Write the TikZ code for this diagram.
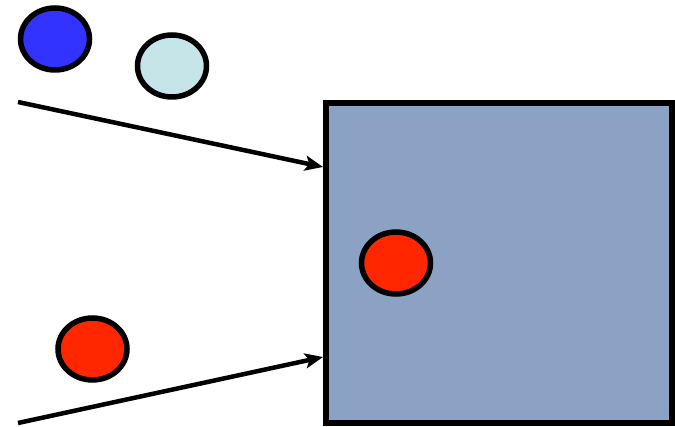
\documentclass[tikz,border=0pt]{standalone}
\usetikzlibrary{arrows.meta,shapes.geometric}
\definecolor{ballblue}{HTML}{3333FF}
\definecolor{ballcyan}{HTML}{C5E5E8}
\definecolor{ballred}{HTML}{FF2600}
\definecolor{boxfill}{HTML}{8CA2C4}
\tikzset{
  ball/.style={ellipse, draw=black, line width=5.5pt, minimum width=69pt, minimum height=62pt, inner sep=0pt, outer sep=0pt},
  conn/.style={line width=4.5pt, -{Stealth[length=18pt,width=15pt,inset=4pt]}},
}
\begin{document}
\begin{tikzpicture}[x=1pt,y=-1pt]
\useasboundingbox (0,0) rectangle (675,427);
\node[draw=black, line width=5.5pt, fill=boxfill, minimum width=346pt, minimum height=320pt, inner sep=0pt, outer sep=0pt, anchor=north west] (box) at (326,103) {};
\node[ball, fill=ballblue] (b1) at (55,39) {};
\node[ball, fill=ballcyan] (b2) at (172,66) {};
\node[ball, fill=ballred] (b3) at (92.5,349) {};
\node[ball, fill=ballred] (b4) at (396,263) {};
\coordinate (s1) at (18,102);
\coordinate (s2) at (18,423);
\coordinate (e1) at (323,167);
\coordinate (e2) at (323,357);
\draw[conn] (s1) -- (e1);
\draw[conn] (s2) -- (e2);
\end{tikzpicture}
\end{document}
